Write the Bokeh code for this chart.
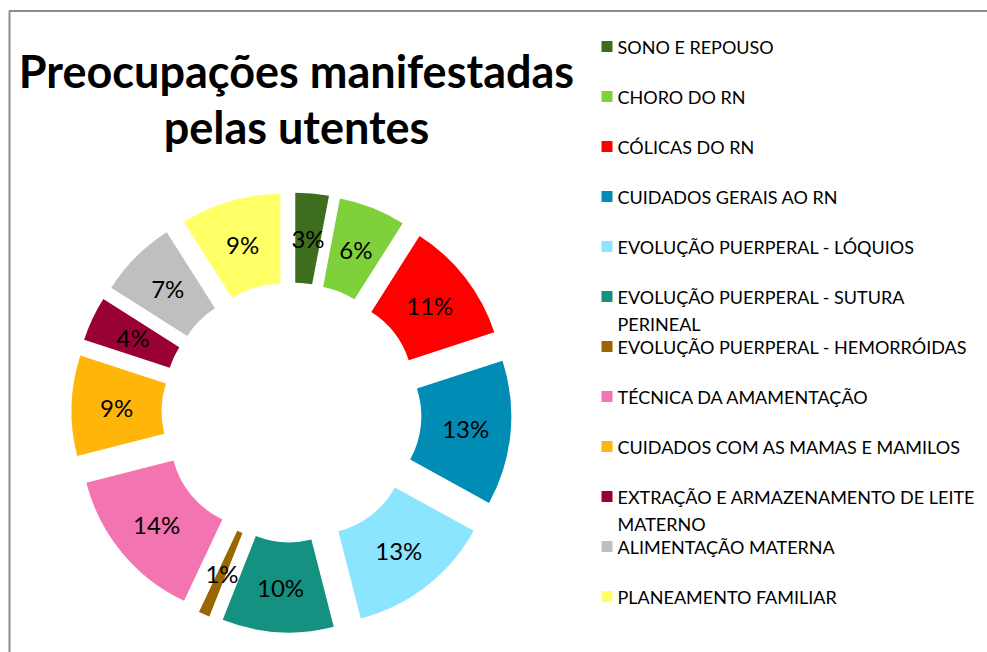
import numpy as np
from bokeh.plotting import figure
from bokeh.models import Range1d, ColumnDataSource
from bokeh.core.properties import value
from bokeh.embed import file_html
from bokeh.resources import INLINE

# ---- data ----
categories = [
    "SONO E REPOUSO",
    "CHORO DO RN",
    "CÓLICAS DO RN",
    "CUIDADOS GERAIS AO RN",
    "EVOLUÇÃO PUERPERAL - LÓQUIOS",
    "EVOLUÇÃO PUERPERAL - SUTURA\nPERINEAL",
    "EVOLUÇÃO PUERPERAL - HEMORRÓIDAS",
    "TÉCNICA DA AMAMENTAÇÃO",
    "CUIDADOS COM AS MAMAS E MAMILOS",
    "EXTRAÇÃO E ARMAZENAMENTO DE LEITE\nMATERNO",
    "ALIMENTAÇÃO MATERNA",
    "PLANEAMENTO FAMILIAR",
]
percentages = [3, 6, 11, 13, 13, 10, 1, 14, 9, 4, 7, 9]
colors = [
    "#3F6D1E", "#7FD13B", "#FF0000", "#008CB4", "#8BE5FF", "#149180",
    "#996600", "#F274B0", "#FFB50A", "#990033", "#BFBFBF", "#FFFF66",
]
title_lines = ["Preocupações manifestadas", "pelas utentes"]

# ---- layout ----
W, H = 987, 652


def px(X):
    return X


def py(Y):
    return H - Y


p = figure(width=W, height=H, x_range=Range1d(0, W), y_range=Range1d(0, H),
           output_backend="svg", toolbar_location=None,
           x_axis_location=None, y_axis_location=None,
           min_border=0, min_border_left=0, min_border_right=0,
           min_border_top=0, min_border_bottom=0)
p.grid.visible = False
p.outline_line_color = None
p.background_fill_color = "white"
p.border_fill_color = "white"

# frame (left and top edges visible in the reference)
p.line(x=[px(9), px(9), px(1000)], y=[py(700), py(10.5), py(10.5)],
       line_color="#8C8C8C", line_width=2)

# ---- exploded doughnut ----
vals = np.array(percentages, dtype=float)
frac = vals / vals.sum()
cum = np.concatenate([[0.0], np.cumsum(frac)]) * 2 * np.pi
th0, th1 = cum[:-1], cum[1:]
mid = (th0 + th1) / 2

cx, cy = px(291), py(412)
r_in, r_out, d = 90, 180, 40
r_lab = (r_in + r_out) / 2

xs = cx + d * np.sin(mid)
ys = cy + d * np.cos(mid)

src = ColumnDataSource(dict(
    x=xs, y=ys,
    start=np.pi / 2 - th1, end=np.pi / 2 - th0,
    color=colors,
    lx=xs + r_lab * np.sin(mid), ly=ys + r_lab * np.cos(mid),
    lab=[f"{v}%" for v in percentages],
))
p.annular_wedge(x="x", y="y", inner_radius=r_in, outer_radius=r_out,
                start_angle="start", end_angle="end", direction="anticlock",
                fill_color="color", line_color=None, source=src)
p.text(x="lx", y="ly", text="lab", source=src, text_align="center",
       text_baseline="middle", text_font=value("Lato"),
       text_font_size="24px", text_color="#000000")

# ---- title ----
p.text(x=[px(296), px(296)], y=[py(70), py(126)], text=title_lines,
       text_align="center", text_baseline="middle",
       text_font=value("Lato"), text_font_style="bold",
       text_font_size="45px", text_color="#000000")

# ---- legend ----
leg_first = [c.split("\n")[0] for c in categories]
leg_y = [py(46 + 50 * i) for i in range(len(categories))]
p.rect(x=[px(606.5)] * len(categories), y=leg_y, width=11, height=11,
       fill_color=colors, line_color=None)
p.text(x=[px(617)] * len(categories), y=leg_y, text=leg_first,
       text_align="left", text_baseline="middle", text_font=value("Lato"),
       text_font_size="18px", text_color="#000000")
cont_txt, cont_y = [], []
for i, c in enumerate(categories):
    parts = c.split("\n")
    for k, part in enumerate(parts[1:], start=1):
        cont_txt.append(part)
        cont_y.append(py(46 + 50 * i + 27 * k))
p.text(x=[px(617)] * len(cont_txt), y=cont_y, text=cont_txt,
       text_align="left", text_baseline="middle", text_font=value("Lato"),
       text_font_size="18px", text_color="#000000")

open("out.html", "w").write(file_html(p, INLINE))
